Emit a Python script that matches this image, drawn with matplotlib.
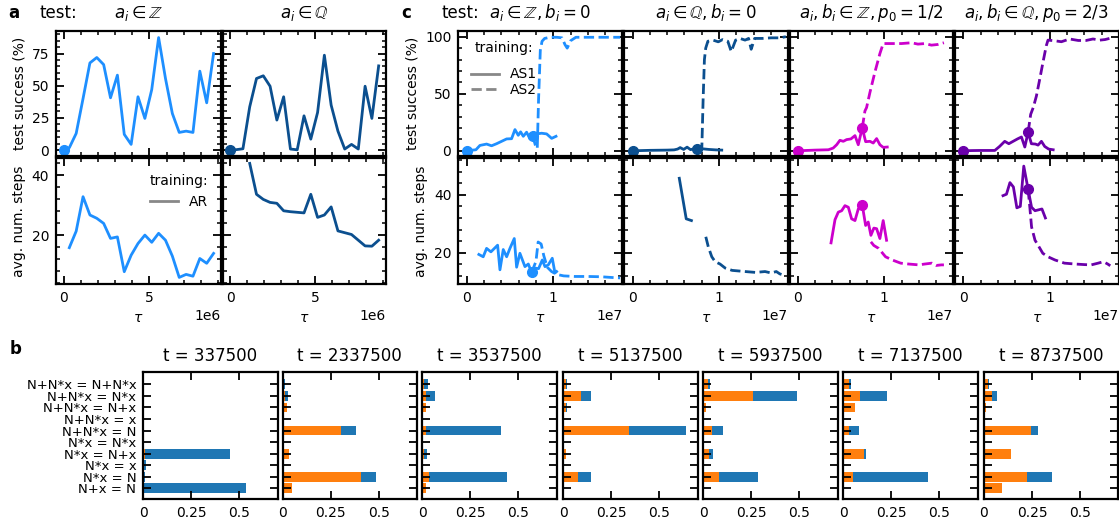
import numpy as np
import matplotlib.pyplot as plt
from matplotlib.ticker import MultipleLocator
from matplotlib.lines import Line2D

# ---------------- panel a: training AR ----------------
a_t = np.array([0, 337500, 737500, 1137500, 1537500, 1937500, 2337500, 2737500,
                3137500, 3537500, 3937500, 4337500, 4737500, 5137500, 5537500,
                5937500, 6337500, 6737500, 7137500, 7537500, 7937500, 8337500, 8737500])
a_succ_Z = [0, 1.8, 12.9, 40, 67.7, 71.9, 66.4, 40.6, 58.2, 12.2, 4.4, 41.4,
            24.6, 47, 87.4, 55.6, 28.4, 13.7, 14.7, 13.7, 61.3, 36.7, 75]
a_succ_Q = [0, 0.3, 1.0, 33.6, 55.6, 57.7, 49.6, 23.3, 41.4, 0.8, 0.2, 26.6,
            8.5, 29.2, 73.7, 34.9, 14.7, 0.8, 4.4, 0.8, 49.6, 24.6, 65.4]
a_steps_Z = [np.nan, 15.8, 21.3, 32.8, 26.7, 25.6, 23.9, 18.9, 19.4, 7.8, 13.3, 17.2,
             20, 17.6, 20.6, 18.3, 13, 5.9, 6.9, 6.3, 12.2, 10.6, 13.9]
a_steps_Q = [np.nan, np.nan, np.nan, 43.9, 33.6, 31.9, 30.9, 30.6, 28.1, 27.8, 27.6,
             27.4, 33.6, 25.9, 26.7, 29.4, 21.4, 20.8, 20.2, 18.3, 16.4, 16.3, 18.3]

# ---------------- panel c: training AS1 / AS2 (tau in units of 1e7) ----------------
c1_s1_t = [0, 0.108, 0.154, 0.231, 0.288, 0.346, 0.404, 0.462, 0.519, 0.558, 0.596,
           0.623, 0.654, 0.692, 0.731, 0.762, 0.808, 0.865, 0.923, 0.981, 1.031]
c1_s1_y = [0, 0.9, 4.7, 5.9, 4.4, 6.2, 8.3, 10.4, 10.6, 18.6, 13.6,
           16.6, 12.7, 16.3, 10.4, 13.3, 14.8, 15.4, 14.8, 10.9, 12.7]
c1_s2_t = [0.762, 0.80, 0.815, 0.83, 0.85, 0.87, 0.90, 0.96, 1.04, 1.10, 1.135,
           1.16, 1.20, 1.26, 1.40, 1.55, 1.70, 1.77]
c1_s2_y = [13.3, 3, 2, 45, 88, 96, 98.5, 99.5, 99.5, 99, 93, 90, 96.5, 99.5, 99.5,
           99.5, 99.5, 99.5]
c1_n1_t = [0.142, 0.192, 0.231, 0.281, 0.358, 0.385, 0.423, 0.462, 0.5, 0.55, 0.577,
           0.615, 0.673, 0.712, 0.75, 0.788, 0.83, 0.873, 0.904, 0.942, 0.988, 1.019, 1.038]
c1_n1_y = [19.4, 18.6, 21.5, 20.3, 22.6, 14.1, 21.1, 18.6, 21.5, 24.9, 15,
           19.8, 15.2, 16.1, 13.2, 14.7, 14.5, 17.5, 15.2, 15.8, 18.1, 13, 13.5]
c1_n2_t = [0.75, 0.80, 0.825, 0.86, 0.89, 0.93, 0.98, 1.04, 1.12, 1.25, 1.40, 1.55, 1.70, 1.77]
c1_n2_y = [13.2, 17, 23.7, 23, 19, 15, 13.5, 12.5, 12, 11.8, 11.8, 11.7, 11.4, 11.3]

c2_s1_t = [0, 0.1, 0.2, 0.3, 0.4, 0.48, 0.52, 0.55, 0.59, 0.63, 0.67, 0.71, 0.75,
           0.8, 0.88, 0.96, 1.03]
c2_s1_y = [0, 0.2, 0.4, 0.5, 0.6, 0.8, 1.5, 2.8, 1.2, 3.2, 1.0, 1.8, 1.5,
           1.8, 1.2, 0.8, 0.6]
c2_s2_t = [0.75, 0.80, 0.815, 0.83, 0.845, 0.87, 0.93, 0.99, 1.04, 1.1, 1.14, 1.19,
           1.24, 1.3, 1.34, 1.37, 1.41, 1.5, 1.6, 1.7, 1.77]
c2_s2_y = [1.5, 2, 45, 80, 90, 96, 97, 95.5, 97.5, 96, 87, 97, 98.5, 97, 98.5, 89,
           98.5, 98.5, 99, 99, 100]
c2_n1_t = [0.54, 0.62, 0.68]
c2_n1_y = [45.7, 31.7, 31.1]
c2_n2_t = [0.846, 0.875, 0.915, 0.954, 1.01, 1.07, 1.15, 1.3, 1.42, 1.53, 1.6, 1.66, 1.7, 1.72]
c2_n2_y = [25.5, 22, 18.6, 16.9, 16.1, 14.7, 13.9, 13.5, 13.2, 13.5, 13, 13.5, 12.7, 12.5]

c3_s1_t = [0, 0.1, 0.2, 0.3, 0.354, 0.41, 0.45, 0.488, 0.527, 0.565, 0.615, 0.662,
           0.70, 0.746, 0.785, 0.835, 0.873, 0.912, 0.95, 0.988, 1.035]
c3_s1_y = [0, 0.3, 0.6, 0.8, 0.9, 2.4, 5.3, 9.2, 8.3, 9.8, 10.4, 13.3,
           5.3, 20.1, 8, 8.3, 6.8, 10.7, 5.3, 3, 3.3]
c3_s2_t = [0.746, 0.777, 0.796, 0.835, 0.892, 0.95, 0.988, 1.046, 1.2, 1.315, 1.39,
           1.47, 1.546, 1.62, 1.69]
c3_s2_y = [20.1, 34.9, 37.9, 51.2, 68.9, 85.2, 94, 94, 94, 94.7, 93.5, 94, 92.6, 93.2, 94.7]
c3_n1_t = [0.385, 0.431, 0.469, 0.508, 0.546, 0.585, 0.623, 0.662, 0.70, 0.746, 0.785,
           0.815, 0.846, 0.88, 0.912, 0.95, 0.988, 1.027]
c3_n1_y = [23.4, 31.4, 34, 34.5, 36.25, 35.7, 31.7, 31.1, 35.1, 36.5, 29.4,
           30.6, 26, 28.5, 28.3, 24.9, 31.1, 24.3]
c3_n2_t = [0.846, 0.88, 0.935, 1.015, 1.092, 1.19, 1.28, 1.4, 1.47, 1.55, 1.6, 1.66, 1.69]
c3_n2_y = [23.75, 22.5, 21.5, 18.6, 17.5, 16.4, 16.1, 15.8, 16.1, 16.4, 15.6, 15.8, 15.8]

c4_s1_t = [0, 0.1, 0.2, 0.3, 0.365, 0.42, 0.48, 0.527, 0.577, 0.627, 0.673, 0.712,
           0.75, 0.788, 0.835, 0.865, 0.904, 0.942, 0.988, 1.04]
c4_s1_y = [0, 0.2, 0.3, 0.3, 0.3, 3.8, 8.3, 6.2, 8.3, 10.4, 12.1, 3.3,
           16.3, 6.2, 5.9, 5, 8.3, 3.8, 1.5, 0.9]
c4_s2_t = [0.75, 0.78, 0.81, 0.846, 0.885, 0.923, 0.96, 0.98, 1.05, 1.135, 1.23, 1.33,
           1.42, 1.5, 1.58, 1.64, 1.69]
c4_s2_y = [16.3, 32, 38, 48, 63, 78, 92, 97, 96.5, 95.6, 98, 96.7, 96.7, 98, 97, 97.5, 98.5]
c4_n1_t = [0.46, 0.5, 0.54, 0.58, 0.62, 0.66, 0.70, 0.75, 0.79, 0.83, 0.87, 0.91, 0.95]
c4_n1_y = [39.7, 40.2, 44.2, 42.7, 35.5, 36, 49.9, 41.9, 35.7, 34.5, 34.8, 35.1, 32]
c4_n2_t = [0.75, 0.77, 0.79, 0.83, 0.865, 0.92, 0.98, 1.06, 1.17, 1.29, 1.4, 1.48,
           1.56, 1.62, 1.67, 1.70]
c4_n2_y = [41.9, 35.7, 28.9, 24.3, 22.6, 19.8, 18.6, 17.5, 16.4, 16.1, 15.9, 15.8,
           16.4, 16.9, 16.1, 15.5]

# marker points (tau/1e7, value)
c_marks_top = [[(0, 0), (0.762, 13.3)], [(0, 0), (0.75, 1.5)],
               [(0, 0), (0.746, 20.1)], [(0, 0), (0.75, 16.3)]]
c_marks_bot = [[(0.75, 13.2)], [], [(0.746, 36.5)], [(0.75, 41.9)]]

c_titles = [r"$a_i \in \mathbb{Z}, b_i = 0$", r"$a_i \in \mathbb{Q}, b_i = 0$",
            r"$a_i, b_i \in \mathbb{Z}, p_0 = 1/2$", r"$a_i, b_i \in \mathbb{Q}, p_0 = 2/3$"]

# ---------------- panel b: bar charts ----------------
b_labels = ["N+x = N", "N*x = N", "N*x = x", "N*x = N+x", "N*x = N*x",
            "N+N*x = N", "N+N*x = x", "N+N*x = N+x", "N+N*x = N*x", "N+N*x = N+N*x"]
b_times = [337500, 2337500, 3537500, 5137500, 5937500, 7137500, 8737500]
b_orange = [
    [0, 0, 0, 0.008, 0, 0, 0, 0, 0, 0],
    [0.046, 0.41, 0, 0.032, 0, 0.305, 0, 0.025, 0.012, 0.008],
    [0.02, 0.035, 0, 0.008, 0, 0.018, 0, 0.02, 0.018, 0.008],
    [0.005, 0.077, 0, 0.012, 0, 0.341, 0, 0.015, 0.092, 0.015],
    [0.005, 0.081, 0, 0.028, 0, 0.044, 0, 0.015, 0.26, 0.023],
    [0.004, 0.048, 0, 0.107, 0, 0.032, 0, 0.063, 0.088, 0.032],
    [0.093, 0.225, 0, 0.14, 0, 0.246, 0, 0.012, 0.04, 0.02],
]
b_blue = [
    [0.537, 0.008, 0.015, 0.444, 0, 0, 0, 0, 0, 0],
    [0, 0.074, 0, 0.003, 0, 0.079, 0, 0, 0.018, 0.004],
    [0.001, 0.405, 0, 0.017, 0, 0.391, 0, 0, 0.047, 0.022],
    [0, 0.069, 0, 0, 0, 0.301, 0, 0.005, 0.054, 0.005],
    [0, 0.205, 0, 0.025, 0, 0.061, 0, 0, 0.23, 0.014],
    [0, 0.395, 0, 0.009, 0, 0.052, 0, 0, 0.139, 0.008],
    [0, 0.132, 0, 0, 0, 0.037, 0, 0, 0.026, 0.005],
]

col_Z = '#1e8fff'
col_Q = '#0b4f8f'
col_Zp = '#cc00cc'
col_Qp = '#6a00aa'
gray = '#888888'

plt.rcParams['font.size'] = 10
plt.rcParams['axes.linewidth'] = 1.6

W, H = 1119, 527
fig = plt.figure(figsize=(W / 100, H / 100), dpi=100)


def add_ax(l, t, r, b):
    return fig.add_axes([l / W, 1 - b / H, (r - l) / W, (b - t) / H])


def style(ax, xmaj, xmin, ymaj, ymin):
    ax.xaxis.set_major_locator(MultipleLocator(xmaj))
    ax.xaxis.set_minor_locator(MultipleLocator(xmin))
    ax.yaxis.set_major_locator(MultipleLocator(ymaj))
    ax.yaxis.set_minor_locator(MultipleLocator(ymin))
    ax.tick_params(which='both', direction='in', top=True, right=True, pad=5)
    ax.tick_params(which='major', length=6, width=1.3)
    ax.tick_params(which='minor', length=3, width=1.1)


row_top = (31, 156.5)
row_bot = (158, 284)

# ---- panel a ----
a_cols = [(56, 221), (223, 386)]
a_succ = [a_succ_Z, a_succ_Q]
a_steps = [a_steps_Z, a_steps_Q]
a_colors = [col_Z, col_Q]
a_titles = [r"$a_i \in \mathbb{Z}$", r"$a_i \in \mathbb{Q}$"]
for j in range(2):
    l, r = a_cols[j]
    axt = add_ax(l, row_top[0], r, row_top[1])
    axb = add_ax(l, row_bot[0], r, row_bot[1])
    axt.plot(a_t, a_succ[j], color=a_colors[j], lw=2)
    axt.plot(a_t[0], a_succ[j][0], 'o', color=a_colors[j], ms=7)
    axb.plot(a_t, a_steps[j], color=a_colors[j], lw=2)
    for ax in (axt, axb):
        ax.set_xlim(-0.437e6, 9.17e6)
    axt.set_ylim(-5, 92.5)
    axb.set_ylim(3.7, 45.7)
    style(axt, 5e6, 1e6, 25, 5)
    style(axb, 5e6, 1e6, 20, 4)
    axt.tick_params(labelbottom=False)
    axt.set_title(a_titles[j], fontsize=12, pad=9)
    axb.set_xlabel(r"$\tau$")
    if j == 0:
        axt.set_ylabel("test success (%)")
        axb.set_ylabel("avg. num. steps")
        axb.legend(handles=[Line2D([], [], color=gray, lw=2)], labels=["AR"],
                   title="training:", loc='upper right', frameon=False,
                   bbox_to_anchor=(1.0, 0.97))
    else:
        axt.tick_params(labelleft=False)
        axb.tick_params(labelleft=False)

# ---- panel c ----
c_cols = [(458.3, 622.3), (624.3, 788), (789.5, 953), (955, 1118.5)]
c_colors = [col_Z, col_Q, col_Zp, col_Qp]
c_top = [(c1_s1_t, c1_s1_y, c1_s2_t, c1_s2_y), (c2_s1_t, c2_s1_y, c2_s2_t, c2_s2_y),
         (c3_s1_t, c3_s1_y, c3_s2_t, c3_s2_y), (c4_s1_t, c4_s1_y, c4_s2_t, c4_s2_y)]
c_bot = [(c1_n1_t, c1_n1_y, c1_n2_t, c1_n2_y), (c2_n1_t, c2_n1_y, c2_n2_t, c2_n2_y),
         (c3_n1_t, c3_n1_y, c3_n2_t, c3_n2_y), (c4_n1_t, c4_n1_y, c4_n2_t, c4_n2_y)]
for j in range(4):
    l, r = c_cols[j]
    col = c_colors[j]
    axt = add_ax(l, row_top[0], r, row_top[1])
    axb = add_ax(l, row_bot[0], r, row_bot[1])
    for ax, data, marks in ((axt, c_top[j], c_marks_top[j]), (axb, c_bot[j], c_marks_bot[j])):
        t1, y1, t2, y2 = data
        ax.plot(np.array(t1) * 1e7, y1, color=col, lw=2)
        ax.plot(np.array(t2) * 1e7, y2, color=col, lw=2, ls='--')
        for (mt, my) in marks:
            ax.plot(mt * 1e7, my, 'o', color=col, ms=7)
        ax.set_xlim(-0.095e7, 1.795e7)
    axt.set_ylim(-5, 105)
    axb.set_ylim(9.2, 52.7)
    style(axt, 1e7, 2e6, 50, 10)
    style(axb, 1e7, 2e6, 20, 4)
    axt.tick_params(labelbottom=False)
    axt.set_title(c_titles[j], fontsize=12, pad=9)
    axb.set_xlabel(r"$\tau$")
    if j == 0:
        axt.set_ylabel("test success (%)")
        axb.set_ylabel("avg. num. steps")
        leg = axt.legend(handles=[Line2D([], [], color=gray, lw=2),
                                  Line2D([], [], color=gray, lw=2, ls='--')],
                         labels=["AS1", "AS2"], title="training:", loc='upper left',
                         frameon=False, labelspacing=0.1, bbox_to_anchor=(0.0, 1.02))
        leg._legend_box.sep = 9
    else:
        axt.tick_params(labelleft=False)
        axb.tick_params(labelleft=False)

# ---- panel b ----
b_lefts = [143.3, 282.7, 422.3, 563.3, 703.3, 843.3, 984]
rows = np.arange(len(b_labels))
for i in range(len(b_times)):
    ax = add_ax(b_lefts[i], 372.3, b_lefts[i] + 134.3, 499)
    ax.barh(rows, b_orange[i], height=0.85, color='#ff7f0e')
    ax.barh(rows, b_blue[i], left=b_orange[i], height=0.85, color='#1f77b4')
    ax.set_xlim(0, 0.7)
    ax.set_ylim(-0.93, 10.04)
    ax.set_xticks([0, 0.25, 0.5])
    ax.set_xticklabels(["0", "0.25", "0.5"])
    ax.set_yticks(rows)
    ax.tick_params(which='both', direction='in', top=True, right=True, pad=5,
                   length=6, width=1.3)
    if i == 0:
        ax.set_yticklabels(b_labels, fontsize=9.5)
    else:
        ax.tick_params(labelleft=False)
    ax.set_title(f"t = {b_times[i]}", fontsize=12, pad=8)

# ---- panel labels / row titles ----
fig.text(8 / W, 1 - 18 / H, "a", fontsize=12, fontweight='bold')
fig.text(40 / W, 1 - 18.3 / H, "test:", fontsize=12)
fig.text(401 / W, 1 - 18 / H, "c", fontsize=12, fontweight='bold')
fig.text(441 / W, 1 - 18.3 / H, "test:", fontsize=12)
fig.text(10 / W, 1 - 354 / H, "b", fontsize=12, fontweight='bold')

fig.savefig("out.png", dpi=100)
